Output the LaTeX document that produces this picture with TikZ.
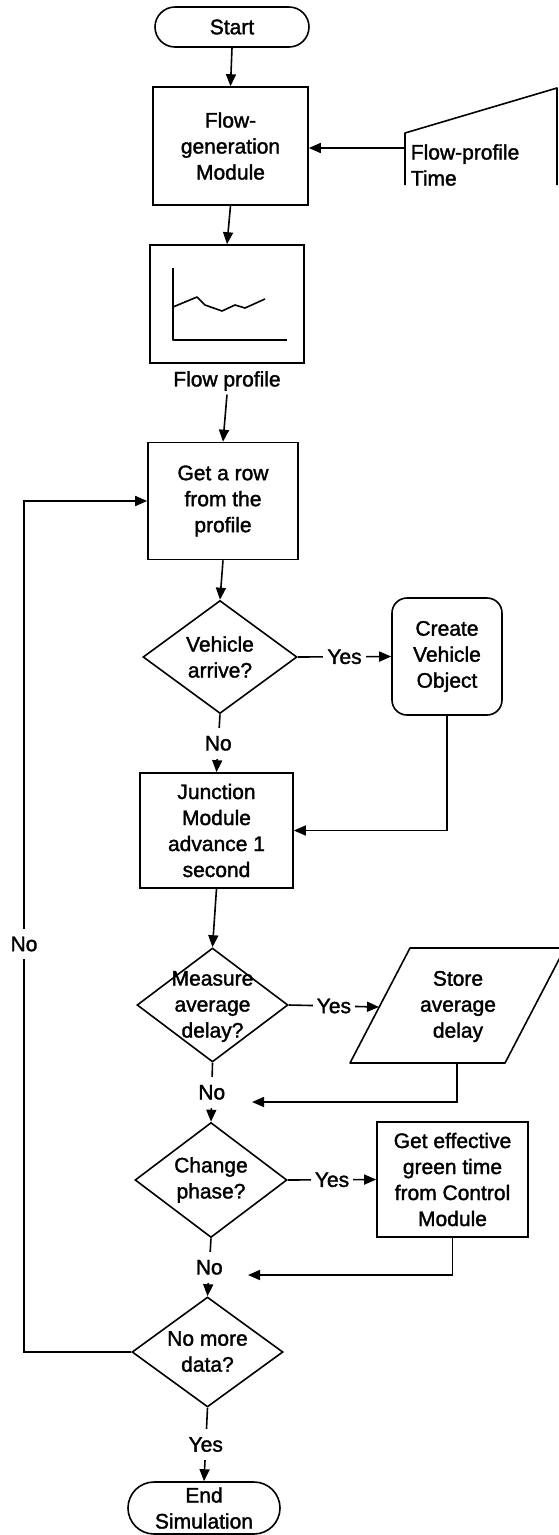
\documentclass[tikz,border=0pt]{standalone}
\usepackage{fontspec}
\setmainfont{Liberation Sans}[BoldFont={Liberation Sans}, BoldFeatures={FakeBold=1.6}]
\usetikzlibrary{arrows.meta,shapes.geometric}
\begin{document}
\begin{tikzpicture}[x=1pt,y=-1pt,
  line width=1.6pt,
  every node/.style={font=\fontsize{21}{26}\selectfont\bfseries, align=center, inner sep=0pt},
  arr/.style={-{Triangle[length=12pt,width=10pt]}},
  proc/.style={draw, rectangle},
  term/.style={draw, rectangle, rounded corners=#1},
  dia/.style={draw, diamond, inner sep=0pt},
  lbl/.style={fill=white, inner xsep=4pt, inner ysep=8pt}
]
\fill[white] (0,0) rectangle (558,1535);
\useasboundingbox (0,0) rectangle (558,1535);

% --- top: start, flow generation, input data ---
\node[term=20pt, minimum width=154pt, minimum height=40pt] (start) at (232,27) {Start};
\node[proc, minimum width=155pt, minimum height=118pt] (fgen) at (230.5,146) {Flow-\\generation\\Module};

\draw[line join=round] (405,185) -- (405,133) -- (557,88) -- (557,185);
\coordinate (fin) at (405,148);
\node[anchor=west, align=left] (fintxt) at (410,165) {Flow-profile\\Time};

% --- flow profile chart ---
\node[proc, minimum width=154pt, minimum height=118pt] (chart) at (227,304) {};
\draw[line join=round] (172.7,268) -- (172.7,340) -- (287,340);
\draw[line join=round] (173,307) -- (197,297) -- (205,305) -- (222,311)
      -- (235,305) -- (245,308) -- (265,299);
\node (flab) at (227,381) {Flow profile};

% --- main loop ---
\node[proc, minimum width=150pt, minimum height=117pt] (getrow) at (223,501) {Get a row\\from the\\profile};

\node[dia, minimum width=154pt, minimum height=113pt] (va) at (220,657) {};
\node at (va) {Vehicle\\arrive?};
\node[term=15pt, minimum width=110pt, minimum height=117pt] (cv) at (447,656.5) {Create\\Vehicle\\Object};

\node[proc, minimum width=153pt, minimum height=115pt] (jn) at (216.5,830.5) {Junction\\Module\\advance 1\\second};

\node[dia, minimum width=151pt, minimum height=114pt] (md) at (212.5,1005) {};
\node at (212.5,1006.5) {Measure\\average\\delay?};
\draw[line join=round] (410,948) -- (565,948) -- (505,1063) -- (350,1063) -- cycle;
\node (store) at (458,1006.5) {Store\\average\\delay};
\coordinate (storeb) at (457,1063);
\coordinate (storel) at (379,1007);
\coordinate (s1) at (252,1102);

\node[dia, minimum width=152pt, minimum height=115pt] (cp) at (211,1180) {};
\node at (cp) {Change\\phase?};
\node[proc, minimum width=151pt, minimum height=115pt] (ge) at (452.5,1179.5) {Get effective\\green time\\from Control\\Module};
\coordinate (g1) at (248,1275);

\node[dia, minimum width=151pt, minimum height=110pt] (nm) at (207.5,1352) {};
\node at (207.5,1351.5) {No more\\data?};

\node[term=26pt, minimum width=152pt, minimum height=52pt] (end) at (204,1508) {End\\Simulation};

\coordinate (lp) at (24,1352);

% --- connectors ---
\draw[arr] (start.south) -- (fgen.north);
\draw[arr] (fin) -- (fin -| fgen.east);
\draw[arr] (fgen.south) -- (chart.north);
\draw[arr] (flab.south) ++(0,3) -- (getrow.north);
\draw[arr] (getrow.south) -- (va.north);
\draw[arr] (va.east) -- (cv.west) node[lbl, midway] {Yes};
\draw[arr] (va.south) -- (jn.north) node[lbl, midway] {No};
\draw[arr] (cv.south) |- (jn.east);
\draw[arr] (jn.south) -- (md.north);
\draw[arr] (md.east) -- (storel) node[lbl, midway] {Yes};
\draw[arr] (storeb) |- (s1);
\draw[arr] (md.south) -- (cp.north) node[lbl, midway] {No};
\draw[arr] (cp.east) -- (ge.west) node[lbl, midway] {Yes};
\draw[arr] (ge.south) |- (g1);
\draw[arr] (cp.south) -- (nm.north) node[lbl, midway] {No};
\draw[arr] (nm.south) -- (end.north) node[lbl, midway] {Yes};
\draw[arr] (nm.west) -- (lp) |- (getrow.west);
\node[lbl] at (24,944) {No};
\end{tikzpicture}
\end{document}
